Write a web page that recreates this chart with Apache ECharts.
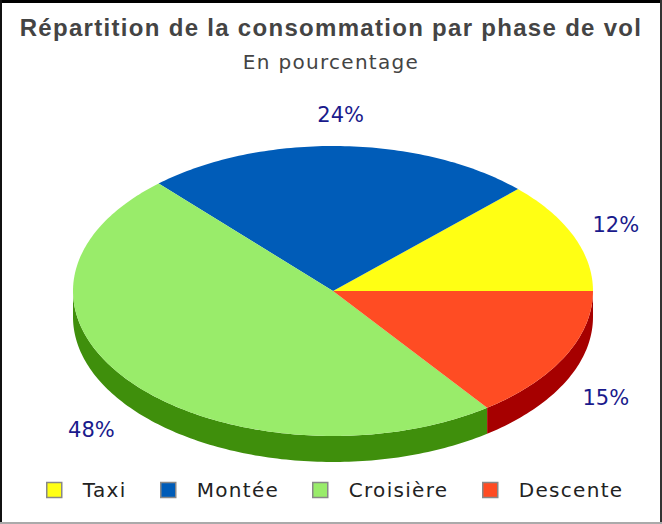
<!DOCTYPE html>
<html>
<head>
<meta charset="utf-8">
<script src="https://cdn.jsdelivr.net/npm/echarts@6/dist/echarts.min.js"></script>
<style>
  html, body { margin: 0; padding: 0; background: #fff; }
  #chart { width: 662px; height: 524px; }
  /* the original text is tracked out, zrender has no option for it */
  #chart text { letter-spacing: 1.3px; }
  #chart text[fill="#1a1a8c"] { letter-spacing: 0; }
</style>
</head>
<body>
<div id="chart"></div>
<script>
const categories = ['Taxi', 'Montée', 'Croisière', 'Descente']
const values = [12.4, 24.3, 48.4, 14.9]
const topColors = ['#ffff14', '#005cb8', '#99ec6a', '#ff4c23']
const sideColors = ['#a6a600', '#003c78', '#3f8f0c', '#a60000']
const legendLefts = [46, 160, 312, 482]

const cx = 333, cy = 291, rx = 260, ry = 145, depth = 26
const total = values.reduce((a, b) => a + b, 0)

function point(deg, dy) {
  const a = deg * Math.PI / 180
  return [cx + rx * Math.cos(a), cy - ry * Math.sin(a) + (dy || 0)]
}

function arc(from, to, dy) {
  const pts = []
  const n = Math.max(2, Math.ceil(Math.abs(to - from)))
  for (let i = 0; i <= n; i++) pts.push(point(from + (to - from) * i / n, dy))
  return pts
}

function sliceItem(idx, from, to) {
  const children = []
  // only the front half of the rim can be seen
  const sideFrom = Math.max(from, 180), sideTo = Math.min(to, 360)
  if (sideTo > sideFrom) {
    children.push({
      type: 'polygon',
      shape: { points: arc(sideFrom, sideTo, 0).concat(arc(sideTo, sideFrom, depth)) },
      style: { fill: sideColors[idx] }
    })
  }
  children.push({
    type: 'polygon',
    shape: { points: [[cx, cy]].concat(arc(from, to, 0)) },
    style: { fill: topColors[idx] }
  })
  const mid = (from + to) / 2 * Math.PI / 180
  const lx = cx + rx * 1.18 * Math.cos(mid) + (Math.cos(mid) < 0 ? -4 : -1)
  const ly = cy - ry * 1.22 * Math.sin(mid) + (Math.sin(mid) < 0 ? depth : 0) + 1
  children.push({
    type: 'text',
    x: lx, y: ly,
    style: {
      text: Math.round(values[idx]) + '%',
      fill: '#1a1a8c',
      font: '21px "DejaVu Sans"',
      align: 'center',
      verticalAlign: 'middle'
    }
  })
  return { type: 'group', children }
}

let acc = 0
const series = categories.map((name, idx) => {
  const from = acc / total * 360
  acc += values[idx]
  const to = acc / total * 360
  return {
    type: 'custom',
    name,
    coordinateSystem: 'none',
    itemStyle: { color: topColors[idx] },
    data: [[values[idx]]],
    renderItem: () => sliceItem(idx, from, to)
  }
})

const chart = echarts.init(document.getElementById('chart'), null, { renderer: 'svg' })
chart.setOption({
  animation: false,
  backgroundColor: '#fff',
  title: {
    text: 'Répartition de la consommation par phase de vol',
    subtext: 'En pourcentage',
    left: 'center',
    top: 10,
    itemGap: 13,
    textStyle: { color: '#444', fontFamily: 'Liberation Sans', fontWeight: 'bold', fontSize: 24 },
    subtextStyle: { color: '#444', fontFamily: 'DejaVu Sans', fontSize: 20 }
  },
  // one legend per item, the original spacing is not uniform
  legend: categories.map((name, i) => ({
    data: [name],
    left: legendLefts[i],
    top: 480,
    padding: 0,
    icon: 'rect',
    itemWidth: 15,
    itemHeight: 15,
    itemStyle: { borderColor: '#888', borderWidth: 1.5 },
    textStyle: { color: '#222', fontFamily: 'DejaVu Sans', fontSize: 20, padding: [0, 0, 0, 16] }
  })),
  graphic: [
    { type: 'rect', shape: { x: 0, y: 0, width: 662, height: 3 }, style: { fill: '#000' } },
    { type: 'rect', shape: { x: 0, y: 0, width: 2, height: 524 }, style: { fill: '#111' } },
    { type: 'rect', shape: { x: 660, y: 0, width: 2, height: 524 }, style: { fill: '#333' } },
    { type: 'rect', shape: { x: 0, y: 522, width: 662, height: 2 }, style: { fill: '#aaa' } }
  ],
  series
})
</script>
</body>
</html>
